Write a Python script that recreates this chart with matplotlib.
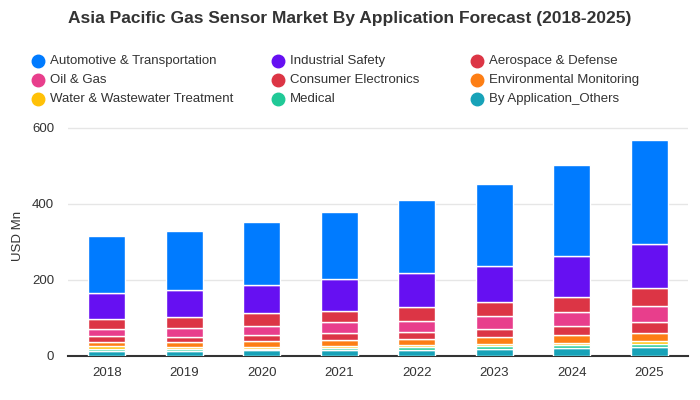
import matplotlib.pyplot as plt
import numpy as np
from matplotlib.lines import Line2D

plt.rcParams['font.family'] = ['Liberation Sans', 'DejaVu Sans']

years = ['2018', '2019', '2020', '2021', '2022', '2023', '2024', '2025']

# stacked bottom -> top
others = [13, 13, 13.5, 14.5, 15.5, 18, 20.5, 23]
medical = [4, 4, 4, 4.5, 6, 6, 7, 8]
water = [9, 5, 5.5, 6, 6, 7, 5.5, 7]
environmental = [10, 14.4, 16, 17, 16.5, 19, 21, 22.5]
consumer = [16, 13.2, 16, 16, 19, 21, 25, 26.5]
oil_gas = [18, 24, 24, 29, 29, 32, 34.6, 43]
aerospace = [26.5, 28.3, 32, 31, 37, 37, 41.4, 47]
industrial = [69.5, 72, 74, 83, 88, 95, 106, 118]
automotive = [148, 153, 166, 176, 194, 216, 242, 274]

series = [
    ('By Application_Others', others, '#17a2b8'),
    ('Medical', medical, '#20c997'),
    ('Water & Wastewater Treatment', water, '#ffc107'),
    ('Environmental Monitoring', environmental, '#fd7e14'),
    ('Consumer Electronics', consumer, '#dc3545'),
    ('Oil & Gas', oil_gas, '#e83e8c'),
    ('Aerospace & Defense', aerospace, '#dc3545'),
    ('Industrial Safety', industrial, '#6610f2'),
    ('Automotive & Transportation', automotive, '#007bff'),
]

fig = plt.figure(figsize=(7, 4), dpi=100)
ax = fig.add_axes([68 / 700, 44.5 / 400, 620 / 700, 239 / 400])

x = np.arange(len(years))
bottom = np.zeros(len(years))
for name, vals, col in series:
    ax.bar(x, vals, width=0.48, bottom=bottom, color=col, edgecolor='white',
           linewidth=1, zorder=3)
    bottom += np.array(vals)

ax.set_xlim(-0.5, len(years) - 0.5)
ax.set_ylim(0, 630)
ax.set_yticks([0, 200, 400, 600])
ax.set_xticks(x)
ax.set_xticklabels(years)
ax.tick_params(axis='both', length=0, labelsize=9.5, colors='#333333')
ax.tick_params(axis='x', pad=8)
ax.tick_params(axis='y', pad=10)
ax.grid(axis='y', color='#e6e6e6', linewidth=1, zorder=0)
for s in ['top', 'right', 'left']:
    ax.spines[s].set_visible(False)
ax.spines['bottom'].set_color('#333333')
ax.spines['bottom'].set_linewidth(1.5)
ax.set_ylabel('USD Mn', fontsize=9.5, color='#333333', labelpad=6)

fig.text(0.5, 1 - 18 / 400, 'Asia Pacific Gas Sensor Market By Application Forecast (2018-2025)',
         ha='center', va='center', fontsize=12.5, fontweight='bold', color='#333333')

# legend laid out row by row like the original
legend_rows = [
    ['Automotive & Transportation', 'Industrial Safety', 'Aerospace & Defense'],
    ['Oil & Gas', 'Consumer Electronics', 'Environmental Monitoring'],
    ['Water & Wastewater Treatment', 'Medical', 'By Application_Others'],
]
colors = {name: col for name, vals, col in series}
col_x = [38, 278, 477]
row_y = [61, 80, 99]
for r, row in enumerate(legend_rows):
    for c, name in enumerate(row):
        fx = col_x[c] / 700
        fy = 1 - row_y[r] / 400
        fig.add_artist(Line2D([fx], [fy], marker='o', markersize=9, color=colors[name],
                              linestyle='none', transform=fig.transFigure))
        fig.text(fx + 12 / 700, fy, name, ha='left', va='center', fontsize=9.5, color='#333333')

fig.savefig('out.png', dpi=100)
